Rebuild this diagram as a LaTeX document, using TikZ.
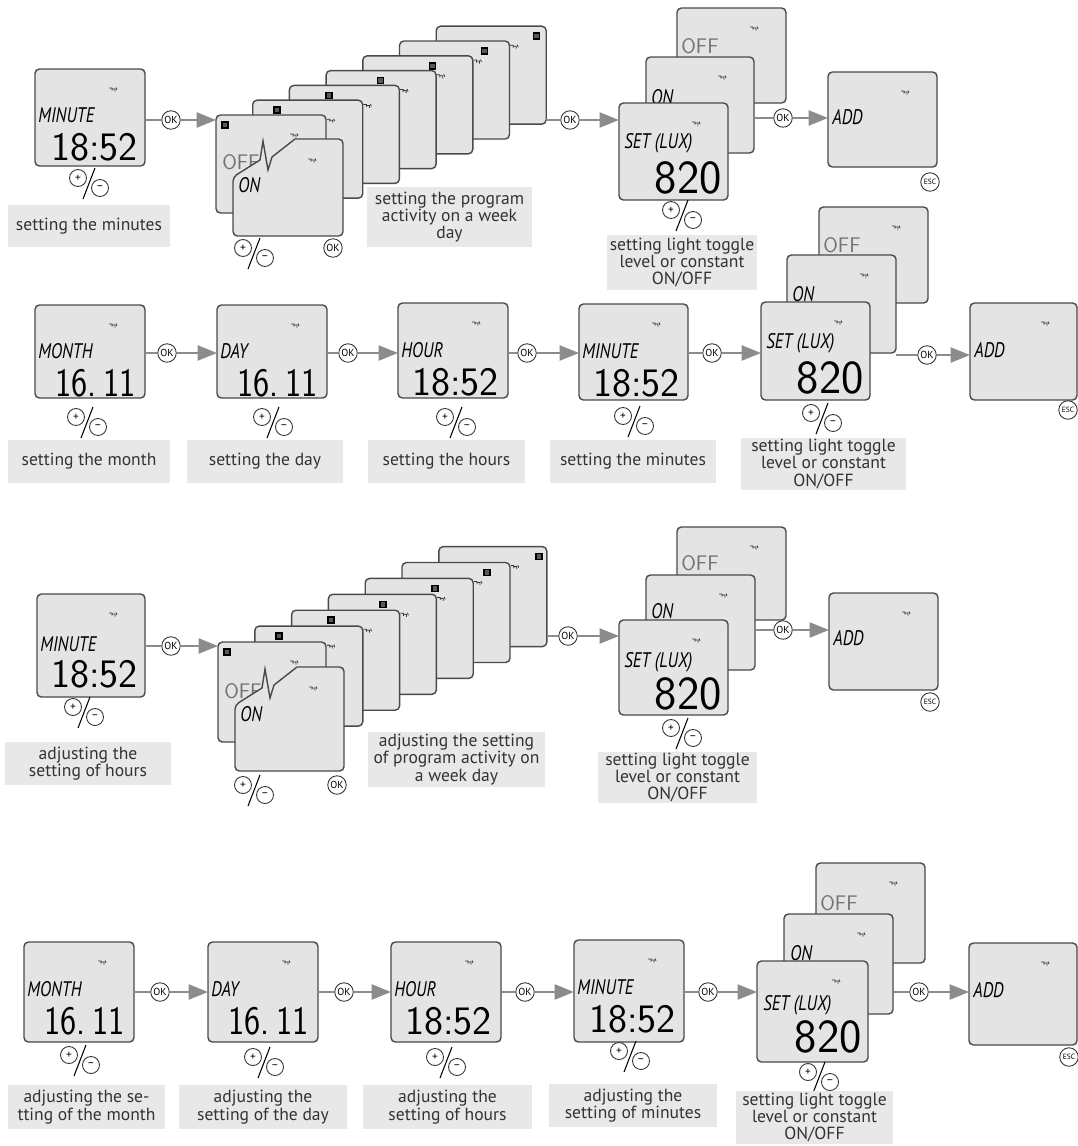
\documentclass[tikz,border=0pt]{standalone}
\usepackage{fontspec}
\setmainfont{PT Sans}
\newfontfamily\lcdfont[FakeStretch=0.8]{PT Sans}
\newfontfamily\segfont{lmsans17-regular.otf}
\newfontfamily\segnarrow[FakeStretch=0.85]{lmsans17-regular.otf}
\usetikzlibrary{arrows.meta}

\definecolor{lcdfill}{HTML}{E4E4E4}
\definecolor{lcdedge}{HTML}{4A4A4A}
\definecolor{capfill}{HTML}{E8E8E8}
\definecolor{linkgray}{HTML}{8C8C8C}

\tikzset{
  lcd/.style={draw=lcdedge, fill=lcdfill, line width=0.8pt, rounded corners=2.5pt,
    anchor=north west, inner sep=0pt, outer sep=0pt},
  lcdpatch/.style={draw=lcdedge, fill=lcdfill, line width=0.8pt, line join=miter},
  lcdword/.style={font=\lcdfont\itshape\fontsize{12}{12}\selectfont, anchor=west, inner sep=0pt},
  lcdthin/.style={font=\segfont\fontsize{12}{12}\selectfont, text=black!55, anchor=west, inner sep=0pt},
  lcddigits/.style={font=\segfont\fontsize{23}{23}\selectfont, anchor=east, inner sep=0pt},
  datedigits/.style={font=\segnarrow\fontsize{23}{23}\selectfont, anchor=east, inner sep=0pt},
  luxdigits/.style={font=\segfont\fontsize{27}{27}\selectfont, anchor=east, inner sep=0pt},
  daybox/.style={draw=black, fill=black!65, line width=0.9pt, minimum size=0.12cm, inner sep=0pt},
  okkey/.style={circle, draw=black!80, fill=white, line width=0.5pt, minimum size=0.37cm,
    inner sep=0pt, font=\fontsize{5.8}{5.8}\selectfont},
  esckey/.style={okkey, font=\fontsize{4.3}{4.3}\selectfont},
  pmkey/.style={circle, draw=black!80, fill=white, line width=0.5pt, minimum size=0.34cm,
    inner sep=0pt, font=\fontsize{6.5}{6.5}\selectfont},
  caption/.style={fill=capfill, inner sep=0pt, align=center, text=black!80,
    font=\fontsize{10}{9.9}\selectfont},
  link/.style={draw=linkgray, line width=1.1pt},
  push/.style={draw=linkgray, line width=1.3pt, -{Triangle[length=11pt, width=8.5pt]}},
  prgicon/.pic={\draw[line width=0.45pt, black!80] (-4,-1) -- (-1,-1) -- (-1,1.5)
    (-1,0) -- (2,0) -- (2,2.5) (3,-1.5) -- (4,1);}
}

% one display: name, left, top, width, height
\newcommand\lcdscreen[5]{%
  \node[lcd, minimum width={#4*0.02cm}, minimum height={#5*0.02cm}] (#1) at (#2,#3) {};
  \pic at ([shift={(-32,20)}]#1.north east) {prgicon};
}
% plus and minus keys round a slash: name, x, y
\newcommand\pmkeys[3]{%
  \node[pmkey] (#1p) at (#2-11,#3-5) {+};
  \node[pmkey] (#1m) at (#2+11,#3+5) {–};
  \draw[line width=0.6pt] (#2+6,#3-15) -- (#2-6,#3+16);
}
% grey caption: name, x1, y1, x2, y2, text
\newcommand\capbox[6]{%
  \node[caption, minimum width={(#4-#2)*0.02cm}, minimum height={(#5-#3)*0.02cm}]
    (#1) at ({(#2+#4)/2},{(#3+#5)/2}) {#6};
}

\begin{document}
\begin{tikzpicture}[x=0.02cm, y=-0.02cm]

  \useasboundingbox[fill=white] (0,0) rectangle (1078,1146);

  % ---------- row 1 ----------
  \lcdscreen{r1min}{35}{69}{110}{97}
  \node[lcdword] (r1minw) at ([shift={(3,46)}]r1min.north west) {MINUTE};
  \node[lcddigits] (r1mind) at ([shift={(-7,78)}]r1min.north east) {18:52};
  \pmkeys{r1minpm}{89}{183}
  \capbox{r1mincap}{8}{205}{170}{247}{setting the minutes}

  \foreach \i in {7,...,1}{
    \pgfmathsetmacro\bx{216+36.7*(\i-1)}
    \pgfmathsetmacro\by{115-14.8*(\i-1)}
    \lcdscreen{r1wk\i}{\bx}{\by}{110}{98}
    \node[daybox] (r1wkq\i) at ([shift={({9+15.2*(\i-1)},10)}]r1wk\i.north west) {};
  }
  \node[lcdthin] (r1wkoff) at ([shift={(6,47)}]r1wk1.north west) {OFF};
  \coordinate (r1wkon) at (233,139);
  \draw[lcdpatch] (r1wkon) ++(0,38) -- ++(27,-17) -- ++(3,-19) -- ++(5,29) -- ++(4,-13)
    -- ++(23,-18) [rounded corners=2.5pt] -- ++(48,0) -- ++(0,97) -- ++(-110,0) -- cycle;
  \pic at ([shift={(79,21)}]r1wkon) {prgicon};
  \node[lcdword] (r1wkonw) at ([shift={(5,46)}]r1wkon) {ON};
  \pmkeys{r1wkpm}{254}{253}
  \node[okkey] (r1wkok) at (333,248) {OK};
  \capbox{r1wkcap}{367}{187}{532}{247}{setting the program\\activity on a week\\day}

  \lcdscreen{r1lxoff}{677}{8}{109}{95}
  \node[lcdthin] (r1lxoffw) at ([shift={(4,38)}]r1lxoff.north west) {OFF};
  \lcdscreen{r1lxon}{646}{57}{108}{96}
  \node[lcdword] (r1lxonw) at ([shift={(5,40)}]r1lxon.north west) {ON};
  \lcdscreen{r1lx}{619}{103}{109}{97}
  \node[lcdword] (r1lxw) at ([shift={(5,40)}]r1lx.north west) {SET (LUX)};
  \node[luxdigits] (r1lxd) at ([shift={(-6,75)}]r1lx.north east) {820};
  \pmkeys{r1lxpm}{682}{215}
  \capbox{r1lxcap}{607}{235}{757}{290}{setting light toggle\\level or constant\\ON/OFF}

  \lcdscreen{r1add}{828}{72}{109}{95}
  \node[lcdword] (r1addw) at ([shift={(4,45)}]r1add.north west) {ADD};
  \node[esckey] (r1esc) at (930,182) {ESC};

  \node[okkey] (r1ok1) at (171,120) {OK};
  \draw[link] (r1min.east |- r1ok1) -- (r1ok1);
  \draw[push] (r1ok1) -- (r1ok1 -| r1wk1.west);
  \node[okkey] (r1ok2) at (570,120) {OK};
  \draw[link] (r1wk7.east |- r1ok2) -- (r1ok2);
  \draw[push] (r1ok2) -- (r1ok2 -| r1lx.west);
  \node[okkey] (r1ok3) at (783,118) {OK};
  \draw[link] (r1lxon.east |- r1ok3) -- (r1ok3);
  \draw[push] (r1ok3) -- (r1ok3 -| r1add.west);

  % ---------- row 2 ----------
  \lcdscreen{r2mon}{35}{305}{110}{93}
  \node[lcdword] (r2monw) at ([shift={(3,46)}]r2mon.north west) {MONTH};
  \node[datedigits] (r2mond) at ([shift={(-9,78)}]r2mon.north east) {16.\,11};
  \pmkeys{r2monpm}{87}{422}
  \capbox{r2moncap}{8}{440}{170}{483}{setting the month}

  \lcdscreen{r2day}{217}{305}{110}{93}
  \node[lcdword] (r2dayw) at ([shift={(3,46)}]r2day.north west) {DAY};
  \node[datedigits] (r2dayd) at ([shift={(-9,78)}]r2day.north east) {16.\,11};
  \pmkeys{r2daypm}{273}{422}
  \capbox{r2daycap}{187}{440}{343}{483}{setting the day}

  \lcdscreen{r2hour}{398}{303}{110}{95}
  \node[lcdword] (r2hourw) at ([shift={(3,47)}]r2hour.north west) {HOUR};
  \node[lcddigits] (r2hourd) at ([shift={(-9,79)}]r2hour.north east) {18:52};
  \pmkeys{r2hourpm}{456}{422}
  \capbox{r2hourcap}{368}{440}{525}{483}{setting the hours}

  \lcdscreen{r2min}{579}{304}{109}{96}
  \node[lcdword] (r2minw) at ([shift={(3,47)}]r2min.north west) {MINUTE};
  \node[lcddigits] (r2mind) at ([shift={(-8,79)}]r2min.north east) {18:52};
  \pmkeys{r2minpm}{634}{421}
  \capbox{r2mincap}{550}{440}{716}{483}{setting the minutes}

  \lcdscreen{r2lxoff}{819}{207}{109}{96}
  \node[lcdthin] (r2lxoffw) at ([shift={(4,38)}]r2lxoff.north west) {OFF};
  \lcdscreen{r2lxon}{787}{255}{109}{98}
  \node[lcdword] (r2lxonw) at ([shift={(5,39)}]r2lxon.north west) {ON};
  \lcdscreen{r2lx}{761}{302}{109}{98}
  \node[lcdword] (r2lxw) at ([shift={(5,41)}]r2lx.north west) {SET (LUX)};
  \node[luxdigits] (r2lxd) at ([shift={(-6,76)}]r2lx.north east) {820};
  \pmkeys{r2lxpm}{822}{418}
  \capbox{r2lxcap}{741}{438}{906}{490}{setting light toggle\\level or constant\\ON/OFF}

  \lcdscreen{r2add}{970}{303}{107}{97}
  \node[lcdword] (r2addw) at ([shift={(4,47)}]r2add.north west) {ADD};
  \node[esckey] (r2esc) at (1068,410) {ESC};

  \node[okkey] (r2ok1) at (167,353) {OK};
  \draw[link] (r2mon.east |- r2ok1) -- (r2ok1);
  \draw[push] (r2ok1) -- (r2ok1 -| r2day.west);
  \node[okkey] (r2ok2) at (348,353) {OK};
  \draw[link] (r2day.east |- r2ok2) -- (r2ok2);
  \draw[push] (r2ok2) -- (r2ok2 -| r2hour.west);
  \node[okkey] (r2ok3) at (527,353) {OK};
  \draw[link] (r2hour.east |- r2ok3) -- (r2ok3);
  \draw[push] (r2ok3) -- (r2ok3 -| r2min.west);
  \node[okkey] (r2ok4) at (712,353) {OK};
  \draw[link] (r2min.east |- r2ok4) -- (r2ok4);
  \draw[push] (r2ok4) -- (r2ok4 -| r2lx.west);
  \node[okkey] (r2ok5) at (927,355) {OK};
  \draw[link] (r2lxon.east |- r2ok5) -- (r2ok5);
  \draw[push] (r2ok5) -- (r2ok5 -| r2add.west);

  % ---------- row 3 ----------
  \lcdscreen{r3min}{37}{594}{108}{103}
  \node[lcdword] (r3minw) at ([shift={(3,50)}]r3min.north west) {MINUTE};
  \node[lcddigits] (r3mind) at ([shift={(-7,80)}]r3min.north east) {18:52};
  \pmkeys{r3minpm}{84}{712}
  \capbox{r3mincap}{5}{742}{171}{785}{adjusting the\\setting of hours}

  \foreach \i in {7,...,1}{
    \pgfmathsetmacro\bx{218+36.8*(\i-1)}
    \pgfmathsetmacro\by{642-15.9*(\i-1)}
    \lcdscreen{r3wk\i}{\bx}{\by}{108}{100}
    \node[daybox] (r3wkq\i) at ([shift={({9+15.2*(\i-1)},10)}]r3wk\i.north west) {};
  }
  \node[lcdthin] (r3wkoff) at ([shift={(6,49)}]r3wk1.north west) {OFF};
  \coordinate (r3wkon) at (235,667);
  \draw[lcdpatch] (r3wkon) ++(0,38) -- ++(27,-17) -- ++(3,-19) -- ++(5,29) -- ++(4,-13)
    -- ++(23,-18) [rounded corners=2.5pt] -- ++(47,0) -- ++(0,104) -- ++(-109,0) -- cycle;
  \pic at ([shift={(78,21)}]r3wkon) {prgicon};
  \node[lcdword] (r3wkonw) at ([shift={(5,47)}]r3wkon) {ON};
  \pmkeys{r3wkpm}{254}{790}
  \node[okkey] (r3wkok) at (337,785) {OK};
  \capbox{r3wkcap}{368}{732}{545}{787}{adjusting the setting\\of program activity on\\a week day}

  \lcdscreen{r3lxoff}{677}{527}{109}{93}
  \node[lcdthin] (r3lxoffw) at ([shift={(4,36)}]r3lxoff.north west) {OFF};
  \lcdscreen{r3lxon}{646}{575}{109}{95}
  \node[lcdword] (r3lxonw) at ([shift={(5,36)}]r3lxon.north west) {ON};
  \lcdscreen{r3lx}{619}{620}{109}{95}
  \node[lcdword] (r3lxw) at ([shift={(5,42)}]r3lx.north west) {SET (LUX)};
  \node[luxdigits] (r3lxd) at ([shift={(-6,74)}]r3lx.north east) {820};
  \pmkeys{r3lxpm}{682}{733}
  \capbox{r3lxcap}{598}{752}{757}{803}{setting light toggle\\level or constant\\ON/OFF}

  \lcdscreen{r3add}{829}{593}{109}{97}
  \node[lcdword] (r3addw) at ([shift={(4,45)}]r3add.north west) {ADD};
  \node[esckey] (r3esc) at (930,702) {ESC};

  \node[okkey] (r3ok1) at (171,646) {OK};
  \draw[link] (r3min.east |- r3ok1) -- (r3ok1);
  \draw[push] (r3ok1) -- (r3ok1 -| r3wk1.west);
  \node[okkey] (r3ok2) at (568,636) {OK};
  \draw[link] (r3wk7.east |- r3ok2) -- (r3ok2);
  \draw[push] (r3ok2) -- (r3ok2 -| r3lx.west);
  \node[okkey] (r3ok3) at (783,630) {OK};
  \draw[link] (r3lxon.east |- r3ok3) -- (r3ok3);
  \draw[push] (r3ok3) -- (r3ok3 -| r3add.west);

  % ---------- row 4 ----------
  \lcdscreen{r4mon}{24}{942}{110}{100}
  \node[lcdword] (r4monw) at ([shift={(3,47)}]r4mon.north west) {MONTH};
  \node[datedigits] (r4mond) at ([shift={(-9,79)}]r4mon.north east) {16.\,11};
  \pmkeys{r4monpm}{80}{1060}
  \capbox{r4moncap}{8}{1085}{165}{1129}{adjusting the se-\\tting of the month}

  \lcdscreen{r4day}{208}{942}{110}{100}
  \node[lcdword] (r4dayw) at ([shift={(3,47)}]r4day.north west) {DAY};
  \node[datedigits] (r4dayd) at ([shift={(-9,79)}]r4day.north east) {16.\,11};
  \pmkeys{r4daypm}{264}{1062}
  \capbox{r4daycap}{179}{1085}{347}{1129}{adjusting the\\setting of the day}

  \lcdscreen{r4hour}{391}{942}{110}{100}
  \node[lcdword] (r4hourw) at ([shift={(3,47)}]r4hour.north west) {HOUR};
  \node[lcddigits] (r4hourd) at ([shift={(-9,79)}]r4hour.north east) {18:52};
  \pmkeys{r4hourpm}{446}{1062}
  \capbox{r4hourcap}{363}{1085}{532}{1129}{adjusting the\\setting of hours}

  \lcdscreen{r4min}{574}{940}{110}{102}
  \node[lcdword] (r4minw) at ([shift={(3,47)}]r4min.north west) {MINUTE};
  \node[lcddigits] (r4mind) at ([shift={(-8,79)}]r4min.north east) {18:52};
  \pmkeys{r4minpm}{630}{1056}
  \capbox{r4mincap}{549}{1084}{717}{1127}{adjusting the\\setting of minutes}

  \lcdscreen{r4lxoff}{816}{863}{109}{100}
  \node[lcdthin] (r4lxoffw) at ([shift={(4,40)}]r4lxoff.north west) {OFF};
  \lcdscreen{r4lxon}{784}{914}{109}{100}
  \node[lcdword] (r4lxonw) at ([shift={(6,39)}]r4lxon.north west) {ON};
  \lcdscreen{r4lx}{757}{961}{111}{101}
  \node[lcdword] (r4lxw) at ([shift={(6,44)}]r4lx.north west) {SET (LUX)};
  \node[luxdigits] (r4lxd) at ([shift={(-6,76)}]r4lx.north east) {820};
  \pmkeys{r4lxpm}{819}{1077}
  \capbox{r4lxcap}{736}{1091}{893}{1144}{setting light toggle\\level or constant\\ON/OFF}

  \lcdscreen{r4add}{969}{943}{108}{102}
  \node[lcdword] (r4addw) at ([shift={(4,47)}]r4add.north west) {ADD};
  \node[esckey] (r4esc) at (1069,1057) {ESC};

  \node[okkey] (r4ok1) at (160,992) {OK};
  \draw[link] (r4mon.east |- r4ok1) -- (r4ok1);
  \draw[push] (r4ok1) -- (r4ok1 -| r4day.west);
  \node[okkey] (r4ok2) at (344,992) {OK};
  \draw[link] (r4day.east |- r4ok2) -- (r4ok2);
  \draw[push] (r4ok2) -- (r4ok2 -| r4hour.west);
  \node[okkey] (r4ok3) at (525,992) {OK};
  \draw[link] (r4hour.east |- r4ok3) -- (r4ok3);
  \draw[push] (r4ok3) -- (r4ok3 -| r4min.west);
  \node[okkey] (r4ok4) at (708,992) {OK};
  \draw[link] (r4min.east |- r4ok4) -- (r4ok4);
  \draw[push] (r4ok4) -- (r4ok4 -| r4lx.west);
  \node[okkey] (r4ok5) at (919,992) {OK};
  \draw[link] (r4lxon.east |- r4ok5) -- (r4ok5);
  \draw[push] (r4ok5) -- (r4ok5 -| r4add.west);

\end{tikzpicture}
\end{document}
